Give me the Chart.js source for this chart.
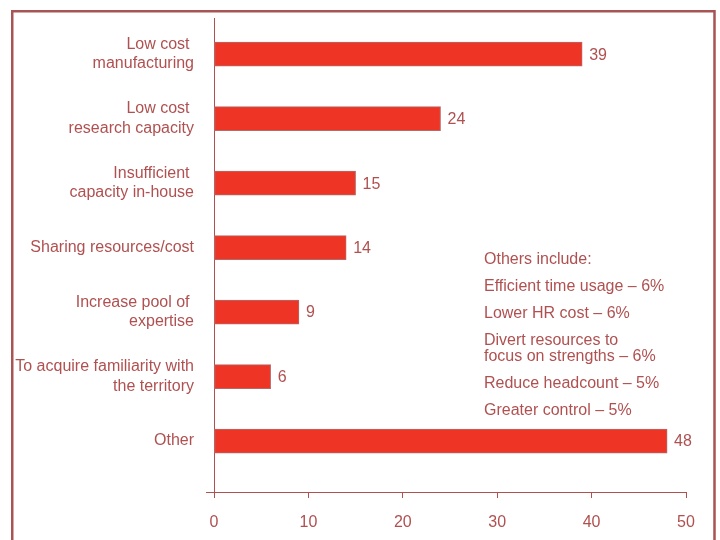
<!DOCTYPE html>
<html><head><meta charset="utf-8">
<script src="https://cdn.jsdelivr.net/npm/chart.js@4.4.0/dist/chart.umd.min.js"></script>
<style>html,body{margin:0;padding:0;background:#fff;}#wrap{width:720px;height:540px;position:relative;}</style>
</head><body><div id="wrap"><canvas id="c" width="720" height="540"></canvas></div>
<script>
const categories = [
  ["Low cost ", "manufacturing"],
  ["Low cost ", "research capacity"],
  ["Insufficient ", "capacity in-house"],
  ["Sharing resources/cost"],
  ["Increase pool of ", "expertise"],
  ["To acquire familiarity with", "the territory"],
  ["Other"]
];
const values = [39, 24, 15, 14, 9, 6, 48];
const xTicks = [0, 10, 20, 30, 40, 50];
const othersNote = [
  ["Others include:"],
  ["Efficient time usage \u2013 6%"],
  ["Lower HR cost \u2013 6%"],
  ["Divert resources to", "focus on strengths \u2013 6%"],
  ["Reduce headcount \u2013 5%"],
  ["Greater control \u2013 5%"]
];

const TXT = '#b05050';
const FONT = 'Liberation Sans, Arial, sans-serif';

const framePlugin = {
  id: 'frame',
  beforeDraw(chart) {
    const ctx = chart.ctx;
    ctx.save();
    ctx.fillStyle = '#fff';
    ctx.fillRect(0, 0, chart.width, chart.height);
    ctx.strokeStyle = '#a85454';
    ctx.lineWidth = 2.5;
    ctx.beginPath();
    ctx.moveTo(12.25, 545);
    ctx.lineTo(12.25, 11.25);
    ctx.lineTo(714.5, 11.25);
    ctx.lineTo(714.5, 545);
    ctx.stroke();
    ctx.restore();
  }
};

const labelPlugin = {
  id: 'vals',
  afterDatasetsDraw(chart) {
    const ctx = chart.ctx;
    const meta = chart.getDatasetMeta(0);
    ctx.save();
    ctx.fillStyle = TXT;
    ctx.font = '16px ' + FONT;
    ctx.textAlign = 'left';
    ctx.textBaseline = 'middle';
    meta.data.forEach((bar, i) => {
      ctx.fillText(String(values[i]), bar.x + 7, bar.y + 1);
    });
    let y = 260;
    const lh = 16;
    othersNote.forEach((lines) => {
      lines.forEach((ln, k) => {
        ctx.fillText(ln, 484, y + k * lh);
      });
      y += 27 + (lines.length - 1) * lh;
    });
    ctx.restore();
  }
};

new Chart(document.getElementById('c'), {
  type: 'bar',
  data: {
    datasets: [{
      data: values.map((v, i) => ({ x: v, y: i })),
      backgroundColor: '#ee3424',
      borderColor: '#b56a6a',
      borderWidth: 1,
      borderSkipped: false,
      barThickness: 24
    }]
  },
  options: {
    indexAxis: 'y',
    responsive: false,
    animation: false,
    devicePixelRatio: 1,
    layout: { padding: { top: 18, right: 34, bottom: 0, left: 0 } },
    plugins: { legend: { display: false }, tooltip: { enabled: false } },
    scales: {
      x: {
        type: 'linear',
        min: 0, max: 50,
        afterBuildTicks(s) { s.ticks = xTicks.map(v => ({ value: v })); },
        afterFit(s) { s.height = 48; },
        border: { display: true, color: '#b05050', width: 1 },
        grid: { drawOnChartArea: false, drawTicks: true, tickLength: 6, color: '#b05050' },
        ticks: { color: TXT, font: { family: FONT, size: 16 }, padding: 15, maxRotation: 0 }
      },
      y: {
        type: 'linear',
        reverse: true,
        offset: false,
        min: -0.56, max: 6.79,
        afterBuildTicks(s) {
          s.ticks = categories.map((c, i) => ({ value: i })).concat([{ value: 6.79 }]);
        },
        afterFit(s) { s.width = 214; s.paddingTop = 0; s.paddingBottom = 0; },
        border: { display: true, color: '#b05050', width: 1 },
        grid: {
          offset: false,
          drawOnChartArea: false, drawTicks: true, tickLength: 8,
          color: (c) => (c.tick && c.tick.value > 6.5 ? '#b05050' : 'rgba(0,0,0,0)')
        },
        ticks: {
          color: TXT,
          font: { family: FONT, size: 16, lineHeight: 1.2 },
          padding: 12,
          autoSkip: false,
          callback: (v) => (Number.isInteger(v) && categories[v] ? categories[v] : '')
        }
      }
    }
  },
  plugins: [framePlugin, labelPlugin]
});
</script></body></html>
